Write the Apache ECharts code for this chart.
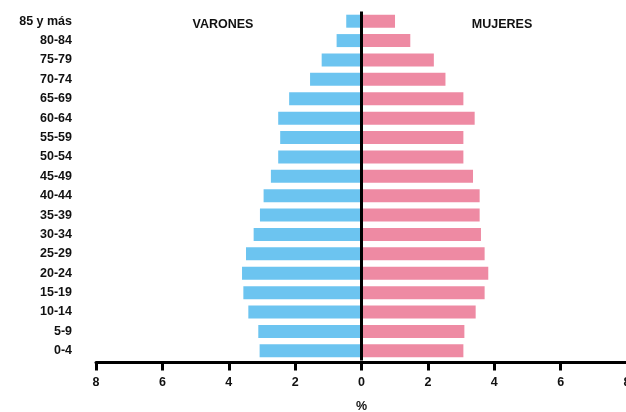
<!DOCTYPE html>
<html>
<head>
<meta charset="utf-8">
<script src="https://cdn.jsdelivr.net/npm/echarts@6/dist/echarts.min.js"></script>
<style>html,body{margin:0;padding:0;background:#fff}#c{width:626px;height:412px}</style>
</head>
<body>
<div id="c"></div>
<script>
const categories = ['85 y más','80-84','75-79','70-74','65-69','60-64','55-59','50-54','45-49','40-44','35-39','30-34','25-29','20-24','15-19','10-14','5-9','0-4'];
const varones = [0.46,0.75,1.2,1.55,2.18,2.51,2.45,2.51,2.73,2.95,3.06,3.25,3.48,3.6,3.56,3.41,3.11,3.07];
const mujeres = [1.01,1.47,2.18,2.53,3.07,3.41,3.07,3.07,3.36,3.56,3.56,3.6,3.71,3.82,3.71,3.44,3.1,3.07];
const xTicks = {min:-8, max:8, interval:2};

const font = 'Liberation Sans, Arial, sans-serif';
const fs = 12.5;
const chart = echarts.init(document.getElementById('c'));
chart.setOption({
  animation:false,
  backgroundColor:'#fff',
  title:[
    {text:'VARONES', left:218, top:13, textAlign:'center', textStyle:{fontFamily:font,fontSize:fs,fontWeight:'bold',color:'#111'}},
    {text:'MUJERES', left:497, top:13, textAlign:'center', textStyle:{fontFamily:font,fontSize:fs,fontWeight:'bold',color:'#111'}}
  ],
  grid:{left:96, width:531, top:11.5, height:349, containLabel:false, outerBoundsMode:'none'},
  xAxis:{
    type:'value', min:xTicks.min, max:xTicks.max, interval:xTicks.interval, offset:2,
    axisLine:{show:true, onZero:false, lineStyle:{color:'#000', width:3}},
    axisTick:{show:true, length:8, lineStyle:{color:'#000', width:3}},
    axisLabel:{formatter:v=>String(Math.abs(v)), margin:14, fontFamily:font, fontSize:fs, fontWeight:'bold', color:'#111'},
    splitLine:{show:false},
    name:'%', nameLocation:'middle', nameGap:38,
    nameTextStyle:{fontFamily:font, fontSize:fs, fontWeight:'bold', color:'#111'}
  },
  yAxis:{
    type:'category', data:categories, inverse:true,
    axisLine:{show:false}, axisTick:{show:false},
    axisLabel:{margin:24, fontFamily:font, fontSize:fs, fontWeight:'bold', color:'#111'}
  },
  series:[
    {name:'Varones', type:'bar', data:varones.map(v=>-v), barWidth:13, barGap:'-100%',
     itemStyle:{color:'#6cc4f0'},
     markLine:{silent:true, symbol:'none', label:{show:false},
       lineStyle:{color:'#000', width:3, type:'solid'}, data:[{xAxis:0}]}},
    {name:'Mujeres', type:'bar', data:mujeres, barWidth:13, barGap:'-100%',
     itemStyle:{color:'#ee8aa3'}}
  ]
});
</script>
</body>
</html>
